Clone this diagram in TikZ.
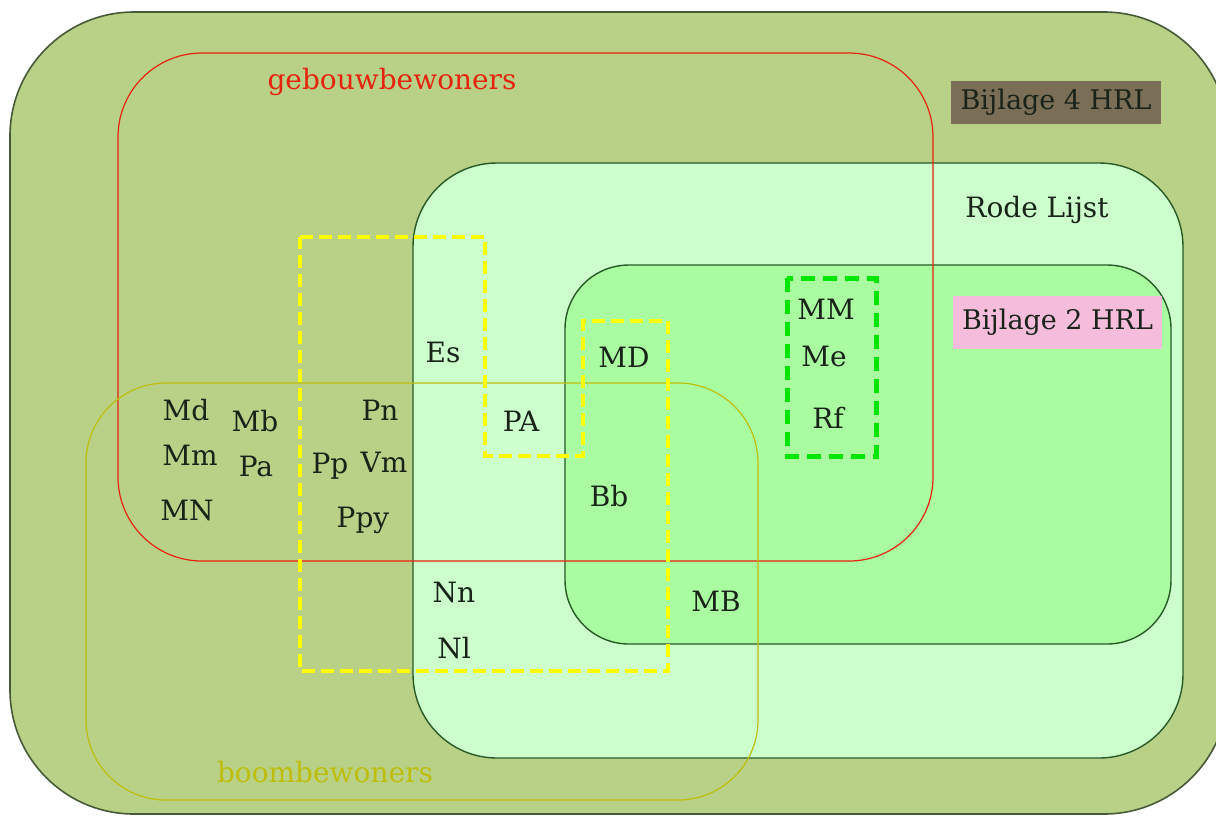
\documentclass[tikz,border=0pt]{standalone}
\usepackage{fontspec}
\setmainfont{DejaVu Serif}
\definecolor{outerfill}{RGB}{185,209,134}
\definecolor{outerline}{RGB}{70,90,55}
\definecolor{rlfill}{RGB}{204,255,204}
\definecolor{bijfill}{RGB}{170,252,160}
\definecolor{darkline}{RGB}{40,90,40}
\definecolor{redline}{RGB}{230,35,15}
\definecolor{olive}{RGB}{190,190,10}
\definecolor{yel}{RGB}{255,255,0}
\definecolor{grn}{RGB}{0,230,0}
\definecolor{b4fill}{RGB}{122,110,86}
\definecolor{pinkfill}{RGB}{245,188,220}
\definecolor{txt}{RGB}{25,35,25}
\tikzset{
  lbl/.style={font=\fontsize{14}{16}\selectfont, text=txt, inner sep=0pt},
  yeldash/.style={draw=yel, line width=2pt, dash pattern=on 6.5pt off 3pt},
  grndash/.style={draw=grn, line width=2.5pt, dash pattern=on 7pt off 4pt},
  tagbox/.style={font=\fontsize{13.5}{16}\selectfont, text=txt, inner sep=0pt, anchor=center}
}
\begin{document}
\begin{tikzpicture}[x=0.5pt,y=-0.5pt]
\useasboundingbox[fill=white] (0,0) rectangle (1216,816);
% outer
\fill[outerfill, draw=outerline, line width=0.8pt, rounded corners=62pt] (10,12) rectangle (1228,814);
% Rode Lijst
\fill[rlfill, draw=darkline, line width=0.7pt, rounded corners=42pt] (413,163) rectangle (1183,758);
% Bijlage 2
\fill[bijfill, draw=darkline, line width=0.7pt, rounded corners=32pt] (565,265) rectangle (1171,644);
% gebouwbewoners
\draw[redline, line width=0.6pt, rounded corners=42pt] (118,53) rectangle (933,561);
% boombewoners
\draw[olive, line width=0.6pt, rounded corners=40pt] (86,383) rectangle (758,800);
% yellow dashed
\draw[yeldash] (300,237) -- (485,237) -- (485,456) -- (583,456) -- (583,321) -- (668,321) -- (668,671) -- (300,671) -- cycle;
% green dashed
\draw[grndash] (787,278) rectangle (876,456);
% tags
\node[tagbox, fill=b4fill, minimum width=105pt, minimum height=21.5pt] (b4) at (1056,102.5) {Bijlage 4 HRL};
\node[tagbox, fill=pinkfill, minimum width=104.5pt, minimum height=26.5pt] (b2) at (1057.5,322.5) {Bijlage 2 HRL};
\node[lbl] (rl) at (1037,210) {Rode Lijst};
\node[lbl, text=redline] (geb) at (392,82) {gebouwbewoners};
\node[lbl, text=olive] (boom) at (325,772) {boombewoners};
% species
\node[lbl] (Md) at (186,410) {Md};
\node[lbl] (Mb) at (255,421) {Mb};
\node[lbl] (Mm) at (190,455) {Mm};
\node[lbl] (Pa) at (256,466) {Pa};
\node[lbl] (MN) at (187,510) {MN};
\node[lbl] (Pn) at (380,410) {Pn};
\node[lbl] (Pp) at (330,466) {Pp};
\node[lbl] (Vm) at (384,462) {Vm};
\node[lbl] (Ppy) at (363,520) {Ppy};
\node[lbl] (Es) at (443,352) {Es};
\node[lbl] (PA) at (521,421) {PA};
\node[lbl] (MD) at (624,357) {MD};
\node[lbl] (MM) at (826,309) {MM};
\node[lbl] (Me) at (824,356) {Me};
\node[lbl] (Rf) at (828,418) {Rf};
\node[lbl] (Bb) at (609,496) {Bb};
\node[lbl] (Nn) at (454,592) {Nn};
\node[lbl] (Nl) at (454,648) {Nl};
\node[lbl] (MB) at (716,601) {MB};
\end{tikzpicture}
\end{document}
